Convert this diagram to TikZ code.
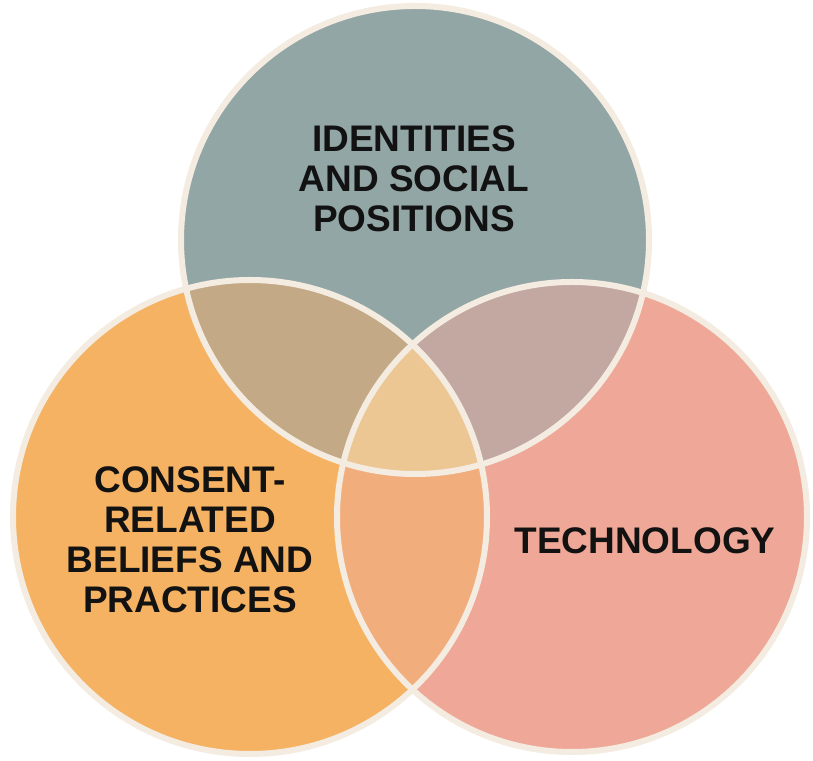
\documentclass[tikz,border=0pt]{standalone}
\usepackage{fontspec}
\setmainfont{Liberation Sans}
\begin{document}
\begin{tikzpicture}[x=1pt,y=1pt,
  ring/.style={draw=rimcol,line width=6pt},
  lbl/.style={font=\bfseries\fontsize{37}{40}\selectfont,text=black!93,align=center,inner sep=0pt}]
\definecolor{rimcol}{HTML}{F4EBE1}
\definecolor{topcol}{HTML}{93A6A6}
\definecolor{leftcol}{HTML}{F5B263}
\definecolor{rightcol}{HTML}{EFA898}
\definecolor{tlcol}{HTML}{C3A985}
\definecolor{trcol}{HTML}{C2A8A0}
\definecolor{lrcol}{HTML}{F2AD7C}
\definecolor{midcol}{HTML}{ECC794}
\useasboundingbox (0,0) rectangle (813,760);
\fill[white] (0,0) rectangle (813,760);
% circle centres and radii
\coordinate (ct) at (415,520);
\coordinate (cl) at (250,243);
\coordinate (cr) at (572,243);
\def\rt{234pt}\def\rl{237pt}\def\rr{235pt}
% base fills
\fill[topcol] (ct) circle[radius=\rt];
\fill[leftcol] (cl) circle[radius=\rl];
\fill[rightcol] (cr) circle[radius=\rr];
% pairwise overlaps
\begin{scope}
  \clip (ct) circle[radius=\rt];
  \fill[tlcol] (cl) circle[radius=\rl];
  \fill[trcol] (cr) circle[radius=\rr];
\end{scope}
\begin{scope}
  \clip (cl) circle[radius=\rl];
  \fill[lrcol] (cr) circle[radius=\rr];
\end{scope}
% triple overlap
\begin{scope}
  \clip (ct) circle[radius=\rt];
  \clip (cl) circle[radius=\rl];
  \fill[midcol] (cr) circle[radius=\rr];
\end{scope}
% outlines
\draw[ring] (ct) circle[radius=\rt];
\draw[ring] (cl) circle[radius=\rl];
\draw[ring] (cr) circle[radius=\rr];
% labels
\node[lbl] (tident) at (414,581) {IDENTITIES\\AND SOCIAL\\POSITIONS};
\node[lbl] (tcons) at (190,220) {CONSENT-\\RELATED\\BELIEFS AND\\PRACTICES};
\node[lbl] (ttech) at (645,219) {TECHNOLOGY};
\end{tikzpicture}
\end{document}
